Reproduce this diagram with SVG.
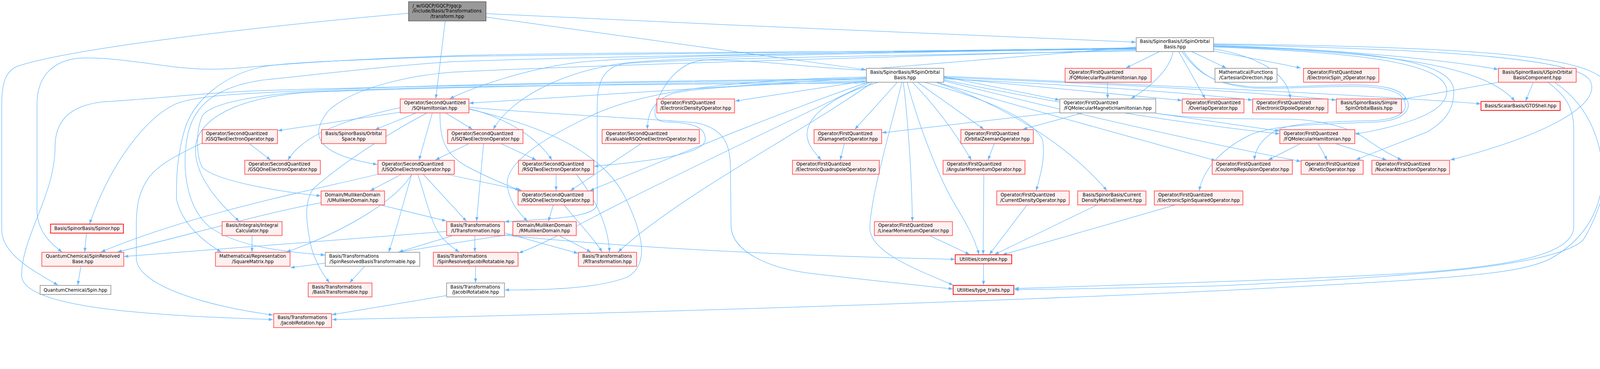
<svg xmlns="http://www.w3.org/2000/svg" width="4634" height="945" viewBox="0 0 4634 945">
<style>
.r{fill:#FFF0F0;stroke:#FF5555;stroke-width:2}
.rr{fill:#FFF0F0;stroke:#FF0000;stroke-width:2}
.g{fill:#FFFFFF;stroke:#999999;stroke-width:2}
.root{fill:#999999;stroke:#666666;stroke-width:2}
text{font-family:"DejaVu Sans","Liberation Sans",sans-serif;font-size:13px;fill:#000}
.m{text-anchor:middle}
#edges path{fill:none;stroke:#63B8FF;stroke-width:1.4;marker-end:url(#a)}
</style>
<defs>
<marker id="a" viewBox="0 0 12 9" markerWidth="12" markerHeight="9" markerUnits="userSpaceOnUse" refX="12" refY="4.5" orient="auto">
<path d="M0,0 L12,4.5 L0,9 z" fill="#63B8FF"/>
</marker>
</defs>
<rect width="4634" height="945" fill="#FFFFFF"/>
<g id="diagram" transform="scale(0.8925)">
<g id="edges">
<path d="M1172,38 C700,80 200,140 50,190 C15,205 5,240 5,300 L5,660 C5,730 100,780 166,818"/>
<path d="M1277,60 L1250,283"/>
<path d="M1394,39 C2000,70 2800,100 3258,121"/>
<path d="M1394,49 L2483,200"/>
<path d="M3326,148 L3230,195"/>
<path d="M3365,148 C3355,200 3300,250 3244,283"/>
<path d="M3381,148 L3457,283"/>
<path d="M3418,148 L3517,195"/>
<path d="M3481,146 L3731,195"/>
<path d="M3481,130 C3800,140 4100,165 4297,199"/>
<path d="M3481,133 C3950,150 4250,180 4345,290"/>
<path d="M3481,140 C3620,165 3695,215 3701,283"/>
<path d="M3481,135 C3900,150 4150,180 4150,262 C4150,330 4000,365 3887,385"/>
<path d="M3481,132 C3950,145 4170,175 4170,262 C4170,320 4140,350 4095,378 L3890,458"/>
<path d="M3481,128 C4100,140 4520,165 4560,230 C4600,300 4430,390 4160,459"/>
<path d="M3481,126 C4250,135 4560,160 4610,240 C4650,310 4625,560 4540,690 C4450,770 4000,795 3500,820 C3200,828 3000,830 2910,831"/>
<path d="M4440,236 C4500,280 4514,320 4514,370 L4514,650 C4514,720 4380,760 4070,782 C3800,800 3300,815 2910,828"/>
<path d="M4460,237 C4540,290 4590,380 4596,486 C4600,580 4560,680 4446,743 C4350,790 4150,800 3480,835 C3000,858 2000,895 953,917"/>
<path d="M4300,236 L4021,285"/>
<path d="M4398,236 L4376,290"/>
<path d="M2574,236 L2452,371"/>
<path d="M2591,236 C2605,350 2615,500 2617,635"/>
<path d="M2587,236 C2560,350 2500,550 2495,650 C2490,720 2620,770 2734,818"/>
<path d="M2602,236 C2640,380 2700,520 2735,580 C2765,630 2795,680 2808,730"/>
<path d="M2617,236 C2680,300 2740,380 2786,459"/>
<path d="M2632,236 L2822,371"/>
<path d="M2651,236 C2820,280 2960,340 2990,400 C3000,450 2985,500 2972,547"/>
<path d="M2684,236 C2850,290 3050,400 3175,547"/>
<path d="M2707,220 L3039,287"/>
<path d="M2707,223 L3390,288"/>
<path d="M2707,226 C3100,245 3400,265 3592,287"/>
<path d="M2707,222 C3100,238 3500,255 3832,287"/>
<path d="M2707,219 C3100,235 3900,270 4247,298"/>
<path d="M2707,229 C3000,290 3350,350 3670,384"/>
<path d="M3315,325 L3670,376"/>
<path d="M2707,232 C3100,330 3450,410 3731,463"/>
<path d="M2688,236 C2900,300 3200,380 3487,461"/>
<path d="M3390,148 C3440,215 3480,240 3600,250 C3780,252 3960,225 4020,268 C4060,300 4040,345 3950,350 C3800,357 3650,355 3580,390 C3500,430 3450,490 3440,547"/>
<path d="M3395,148 C3445,218 3490,245 3600,253 C3780,256 3955,230 4015,272 C4050,305 4030,342 3940,346 C3800,350 3690,352 3650,380 C3615,405 3600,430 3598,459"/>
<path d="M1148,322 L797,375"/>
<path d="M1194,324 L1076,372"/>
<path d="M1148,309 C1050,330 880,370 826,459"/>
<path d="M1240,324 L1202,459"/>
<path d="M1278,324 L1355,371"/>
<path d="M1345,312 C1460,340 1545,400 1583,459"/>
<path d="M1345,308 C1600,330 1950,345 2000,353 C2080,370 2095,420 2095,480 L2097,650 C2100,720 2200,770 2330,785 C2500,805 2600,815 2733,829"/>
<path d="M3259,135 C2950,160 2650,185 2483,199"/>
<path d="M2485,201 C2350,198 2200,172 2030,172 C1950,172 1905,240 1885,290 C1872,330 1878,348 1910,350 C1990,352 2023,365 2023,400 C2023,440 1880,462 1704,477"/>
<path d="M3259,141 C2500,150 1600,150 1300,160 C1000,170 800,185 700,194 C610,202 560,198 500,192 C420,182 300,162 224,167 C150,175 106,220 106,300 L106,600 C106,660 140,695 178,723"/>
<path d="M248,669 L243,723"/>
<path d="M1084,500 C900,545 560,610 290,723"/>
<path d="M921,582 C760,610 600,660 337,723"/>
<path d="M1281,664 L356,736"/>
<path d="M2485,225 C2000,232 1400,238 1000,255 C700,268 560,272 500,300 C420,340 320,460 257,642"/>
<path d="M2485,228 C1800,236 1000,250 700,262 C550,270 420,285 300,292 C210,300 158,340 158,420 C158,560 62,680 62,790 C62,880 400,905 783,917"/>
<path d="M580,410 C520,440 450,470 420,520 C395,560 391,600 391,650 L391,740 C391,820 600,880 783,904"/>
<path d="M2485,232 C1800,240 1200,252 900,264 C700,275 590,330 565,400 C548,460 580,540 686,635"/>
<path d="M2485,232 L2109,290"/>
<path d="M2485,235 C2200,240 2010,250 1930,268 C1870,290 1857,330 1857,371"/>
<path d="M1437,412 L1538,459"/>
<path d="M1280,500 L1496,546"/>
<path d="M1262,324 C1262,390 1270,440 1340,478 C1400,510 1450,530 1490,546"/>
<path d="M3259,143 C2500,165 1600,190 1300,207 C1150,218 1000,260 940,320 C895,380 890,440 1082,472"/>
<path d="M1345,412 L1249,459"/>
<path d="M3259,139 C2600,150 2000,160 1800,180 C1600,205 1460,290 1415,371"/>
<path d="M3259,137 C2500,150 1800,160 1650,180 C1500,200 1360,250 1290,283"/>
<path d="M2485,223 L1346,296"/>
<path d="M715,412 L776,459"/>
<path d="M3040,322 C2800,350 2600,372 2530,381"/>
<path d="M3106,324 L2934,371"/>
<path d="M2520,236 C2400,270 2310,330 2315,390 C2318,420 2340,440 2355,459"/>
<path d="M2422,412 L2410,459"/>
<path d="M2852,412 L2834,459"/>
<path d="M1447,675 C1700,700 2100,730 2739,744"/>
<path d="M2821,757 L2821,818"/>
<path d="M3259,146 C2500,160 1900,170 1790,183 C1715,195 1712,260 1713,330 L1713,585 C1710,622 1600,628 1448,636"/>
<path d="M1152,500 L1062,547"/>
<path d="M1181,500 C1140,570 1000,660 822,723"/>
<path d="M1181,500 C1160,570 1140,650 1115,723"/>
<path d="M1198,500 C1220,560 1235,640 1264,677 C1280,697 1300,712 1317,723"/>
<path d="M1090,588 L1280,634"/>
<path d="M1214,500 L1338,635"/>
<path d="M1387,412 L1367,635"/>
<path d="M1471,672 C1300,695 1100,735 833,768"/>
<path d="M1299,676 L1144,723"/>
<path d="M1362,676 L1362,723"/>
<path d="M1446,668 L1658,727"/>
<path d="M2485,221 C2100,230 1850,260 1700,330 C1550,400 1450,470 1455,530 C1460,580 1490,612 1513,635"/>
<path d="M1587,588 L1573,635"/>
<path d="M1604,676 L1695,723"/>
<path d="M1618,588 C1660,640 1700,680 1727,723"/>
<path d="M1653,500 C1700,560 1745,640 1748,723"/>
<path d="M2503,236 C2300,380 1950,560 1773,723"/>
<path d="M1839,412 L1636,547"/>
<path d="M2490,236 C2300,300 2050,400 1692,547"/>
<path d="M2496,236 C2300,330 1900,520 1741,603 C1650,650 1560,700 1488,726"/>
<path d="M1345,313 C1550,360 1720,430 1790,560 C1850,680 1860,760 1800,795 C1710,830 1550,832 1448,832"/>
<path d="M1364,764 L1364,811"/>
<path d="M1281,848 L952,903"/>
<path d="M1046,764 L1003,811"/>
<path d="M232,764 L223,818"/>
<path d="M723,676 L723,723"/>
<path d="M3259,138 C2400,145 1600,155 1300,162 C1000,172 800,180 746,193 C650,215 560,280 531,367 C506,450 506,520 506,570 C520,640 580,690 634,723"/>
<path d="M3259,140 C2400,150 1600,165 1300,177 C1100,190 900,215 750,230 C620,250 560,300 540,380 C520,470 530,590 600,650 C680,710 820,722 932,732"/>
<path d="M1595,500 L1595,547"/>
<path d="M3177,236 L3177,283"/>
<path d="M3315,325 C3450,345 3600,340 3700,342 C3800,345 3880,370 3920,400 C3970,435 4005,452 4021,459"/>
<path d="M2666,676 L2781,730"/>
<path d="M2822,500 L2820,730"/>
<path d="M2946,588 L2838,730"/>
<path d="M3147,588 L2853,730"/>
<path d="M3371,588 L2876,731"/>
<path d="M2485,238 C1800,243 1200,245 829,267 C700,280 600,300 580,333 C560,380 564,450 580,480 C620,520 800,550 920,562"/>
<path d="M1225,324 C1100,390 980,470 900,540 C870,580 880,640 887,680 C893,730 920,780 945,811"/>
<path d="M3730,412 L3638,459"/>
<path d="M3781,412 L3807,459"/>
<path d="M3830,412 L3977,459"/>
</g>
<g id="n0"><rect class="root" x="1172" y="5" width="222" height="55"/><text x="1183" y="21">/_w/GQCP/GQCP/gqcp</text><text x="1183" y="36">/include/Basis/Transformations</text><text class="m" x="1283" y="51">/transform.hpp</text></g>
<g id="n1"><rect class="g" x="3259" y="108" width="222" height="40"/><text class="m" x="3370" y="123.5">Basis/SpinorBasis/USpinOrbital</text><text class="m" x="3370" y="139">Basis.hpp</text></g>
<g id="n2"><rect class="g" x="2485" y="196" width="222" height="40"/><text class="m" x="2596" y="211.5">Basis/SpinorBasis/RSpinOrbital</text><text class="m" x="2596" y="227">Basis.hpp</text></g>
<g id="n3"><rect class="r" x="3055" y="196" width="247" height="40"/><text x="3066" y="211.5">Operator/FirstQuantized</text><text class="m" x="3178.5" y="227">/FQMolecularPauliHamiltonian.hpp</text></g>
<g id="n4"><rect class="g" x="3485" y="196" width="178" height="40"/><text x="3496" y="211.5">Mathematical/Functions</text><text class="m" x="3574" y="227">/CartesianDirection.hpp</text></g>
<g id="n5"><rect class="r" x="3739" y="196" width="216" height="40"/><text x="3750" y="211.5">Operator/FirstQuantized</text><text class="m" x="3847" y="227">/ElectronicSpin_zOperator.hpp</text></g>
<g id="n6"><rect class="r" x="4298" y="196" width="223" height="40"/><text class="m" x="4409.5" y="211.5">Basis/SpinorBasis/USpinOrbital</text><text class="m" x="4409.5" y="227">BasisComponent.hpp</text></g>
<g id="n7"><rect class="r" x="1148" y="284" width="197" height="40"/><text x="1159" y="299.5">Operator/SecondQuantized</text><text class="m" x="1246.5" y="315">/SQHamiltonian.hpp</text></g>
<g id="n8"><rect class="r" x="1884" y="284" width="223" height="40"/><text x="1895" y="299.5">Operator/FirstQuantized</text><text class="m" x="1995.5" y="315">/ElectronicDensityOperator.hpp</text></g>
<g id="n9"><rect class="g" x="3040" y="284" width="275" height="40"/><text x="3051" y="299.5">Operator/FirstQuantized</text><text class="m" x="3177.5" y="315">/FQMolecularMagneticHamiltonian.hpp</text></g>
<g id="n10"><rect class="r" x="3391" y="284" width="177" height="40"/><text x="3402" y="299.5">Operator/FirstQuantized</text><text class="m" x="3479.5" y="315">/OverlapOperator.hpp</text></g>
<g id="n11"><rect class="r" x="3593" y="284" width="216" height="40"/><text x="3604" y="299.5">Operator/FirstQuantized</text><text class="m" x="3701" y="315">/ElectronicDipoleOperator.hpp</text></g>
<g id="n12"><rect class="r" x="3833" y="284" width="187" height="40"/><text class="m" x="3926.5" y="299.5">Basis/SpinorBasis/Simple</text><text class="m" x="3926.5" y="315">SpinOrbitalBasis.hpp</text></g>
<g id="n13"><rect class="rr" x="4248" y="291" width="227" height="26"/><text class="m" x="4361.5" y="308.5">Basis/ScalarBasis/GTOShell.hpp</text></g>
<g id="n14"><rect class="r" x="580" y="372" width="216" height="40"/><text x="591" y="387.5">Operator/SecondQuantized</text><text class="m" x="688" y="403">/GSQTwoElectronOperator.hpp</text></g>
<g id="n15"><rect class="r" x="922" y="372" width="185" height="40"/><text class="m" x="1014.5" y="387.5">Basis/SpinorBasis/Orbital</text><text class="m" x="1014.5" y="403">Space.hpp</text></g>
<g id="n16"><rect class="r" x="1284" y="372" width="216" height="40"/><text x="1295" y="387.5">Operator/SecondQuantized</text><text class="m" x="1392" y="403">/USQTwoElectronOperator.hpp</text></g>
<g id="n17"><rect class="r" x="1727" y="372" width="279" height="40"/><text x="1738" y="387.5">Operator/SecondQuantized</text><text class="m" x="1866.5" y="403">/EvaluableRSQOneElectronOperator.hpp</text></g>
<g id="n18"><rect class="r" x="2335" y="372" width="194" height="40"/><text x="2346" y="387.5">Operator/FirstQuantized</text><text class="m" x="2432" y="403">/DiamagneticOperator.hpp</text></g>
<g id="n19"><rect class="r" x="2756" y="372" width="208" height="40"/><text x="2767" y="387.5">Operator/FirstQuantized</text><text class="m" x="2860" y="403">/OrbitalZeemanOperator.hpp</text></g>
<g id="n20"><rect class="r" x="3671" y="372" width="215" height="40"/><text x="3682" y="387.5">Operator/FirstQuantized</text><text class="m" x="3778.5" y="403">/FQMolecularHamiltonian.hpp</text></g>
<g id="n21"><rect class="r" x="702" y="460" width="217" height="40"/><text x="713" y="475.5">Operator/SecondQuantized</text><text class="m" x="810.5" y="491">/GSQOneElectronOperator.hpp</text></g>
<g id="n22"><rect class="r" x="1084" y="460" width="219" height="40"/><text x="1095" y="475.5">Operator/SecondQuantized</text><text class="m" x="1193.5" y="491">/USQOneElectronOperator.hpp</text></g>
<g id="n23"><rect class="r" x="1487" y="460" width="216" height="40"/><text x="1498" y="475.5">Operator/SecondQuantized</text><text class="m" x="1595" y="491">/RSQTwoElectronOperator.hpp</text></g>
<g id="n24"><rect class="r" x="2273" y="460" width="249" height="40"/><text x="2284" y="475.5">Operator/FirstQuantized</text><text class="m" x="2397.5" y="491">/ElectronicQuadrupoleOperator.hpp</text></g>
<g id="n25"><rect class="r" x="2705" y="460" width="235" height="40"/><text x="2716" y="475.5">Operator/FirstQuantized</text><text class="m" x="2822.5" y="491">/AngularMomentumOperator.hpp</text></g>
<g id="n26"><rect class="r" x="3477" y="460" width="230" height="40"/><text x="3488" y="475.5">Operator/FirstQuantized</text><text class="m" x="3592" y="491">/CoulombRepulsionOperator.hpp</text></g>
<g id="n27"><rect class="r" x="3732" y="460" width="178" height="40"/><text x="3743" y="475.5">Operator/FirstQuantized</text><text class="m" x="3821" y="491">/KineticOperator.hpp</text></g>
<g id="n28"><rect class="r" x="3935" y="460" width="223" height="40"/><text x="3946" y="475.5">Operator/FirstQuantized</text><text class="m" x="4046.5" y="491">/NuclearAttractionOperator.hpp</text></g>
<g id="n29"><rect class="r" x="921" y="548" width="182" height="40"/><text x="932" y="563.5">Domain/MullikenDomain</text><text class="m" x="1012" y="579">/UMullikenDomain.hpp</text></g>
<g id="n30"><rect class="r" x="1486" y="548" width="216" height="40"/><text x="1497" y="563.5">Operator/SecondQuantized</text><text class="m" x="1594" y="579">/RSQOneElectronOperator.hpp</text></g>
<g id="n31"><rect class="r" x="2859" y="548" width="208" height="40"/><text x="2870" y="563.5">Operator/FirstQuantized</text><text class="m" x="2963" y="579">/CurrentDensityOperator.hpp</text></g>
<g id="n32"><rect class="r" x="3091" y="548" width="196" height="40"/><text class="m" x="3189" y="563.5">Basis/SpinorBasis/Current</text><text class="m" x="3189" y="579">DensityMatrixElement.hpp</text></g>
<g id="n33"><rect class="r" x="3311" y="548" width="254" height="40"/><text x="3322" y="563.5">Operator/FirstQuantized</text><text class="m" x="3438" y="579">/ElectronicSpinSquaredOperator.hpp</text></g>
<g id="n34"><rect class="rr" x="145" y="643" width="209" height="26"/><text class="m" x="249.5" y="660.5">Basis/SpinorBasis/Spinor.hpp</text></g>
<g id="n35"><rect class="r" x="637" y="636" width="172" height="40"/><text class="m" x="723" y="651.5">Basis/Integrals/Integral</text><text class="m" x="723" y="667">Calculator.hpp</text></g>
<g id="n36"><rect class="r" x="1281" y="636" width="166" height="40"/><text x="1292" y="651.5">Basis/Transformations</text><text class="m" x="1364" y="667">/UTransformation.hpp</text></g>
<g id="n37"><rect class="r" x="1471" y="636" width="182" height="40"/><text x="1482" y="651.5">Domain/MullikenDomain</text><text class="m" x="1562" y="667">/RMullikenDomain.hpp</text></g>
<g id="n38"><rect class="r" x="2508" y="636" width="224" height="40"/><text x="2519" y="651.5">Operator/FirstQuantized</text><text class="m" x="2620" y="667">/LinearMomentumOperator.hpp</text></g>
<g id="n39"><rect class="r" x="120" y="724" width="235" height="40"/><text class="m" x="237.5" y="739.5">QuantumChemical/SpinResolved</text><text class="m" x="237.5" y="755">Base.hpp</text></g>
<g id="n40"><rect class="r" x="618" y="724" width="214" height="40"/><text x="629" y="739.5">Mathematical/Representation</text><text class="m" x="725" y="755">/SquareMatrix.hpp</text></g>
<g id="n41"><rect class="g" x="933" y="724" width="271" height="40"/><text x="944" y="739.5">Basis/Transformations</text><text class="m" x="1068.5" y="755">/SpinResolvedBasisTransformable.hpp</text></g>
<g id="n42"><rect class="r" x="1243" y="724" width="243" height="40"/><text x="1254" y="739.5">Basis/Transformations</text><text class="m" x="1364.5" y="755">/SpinResolvedJacobiRotatable.hpp</text></g>
<g id="n43"><rect class="r" x="1659" y="724" width="167" height="40"/><text x="1670" y="739.5">Basis/Transformations</text><text class="m" x="1742.5" y="755">/RTransformation.hpp</text></g>
<g id="n44"><rect class="rr" x="2740" y="731" width="162" height="26"/><text class="m" x="2821" y="748.5">Utilities/complex.hpp</text></g>
<g id="n45"><rect class="g" x="115" y="819" width="203" height="26"/><text class="m" x="216.5" y="836.5">QuantumChemical/Spin.hpp</text></g>
<g id="n46"><rect class="r" x="884" y="812" width="183" height="40"/><text x="895" y="827.5">Basis/Transformations</text><text class="m" x="975.5" y="843">/BasisTransformable.hpp</text></g>
<g id="n47"><rect class="g" x="1281" y="812" width="166" height="40"/><text x="1292" y="827.5">Basis/Transformations</text><text class="m" x="1364" y="843">/JacobiRotatable.hpp</text></g>
<g id="n48"><rect class="rr" x="2734" y="819" width="174" height="26"/><text class="m" x="2821" y="836.5">Utilities/type_traits.hpp</text></g>
<g id="n49"><rect class="r" x="785" y="900" width="166" height="40"/><text x="796" y="915.5">Basis/Transformations</text><text class="m" x="868" y="931">/JacobiRotation.hpp</text></g>
</g>
</svg>
